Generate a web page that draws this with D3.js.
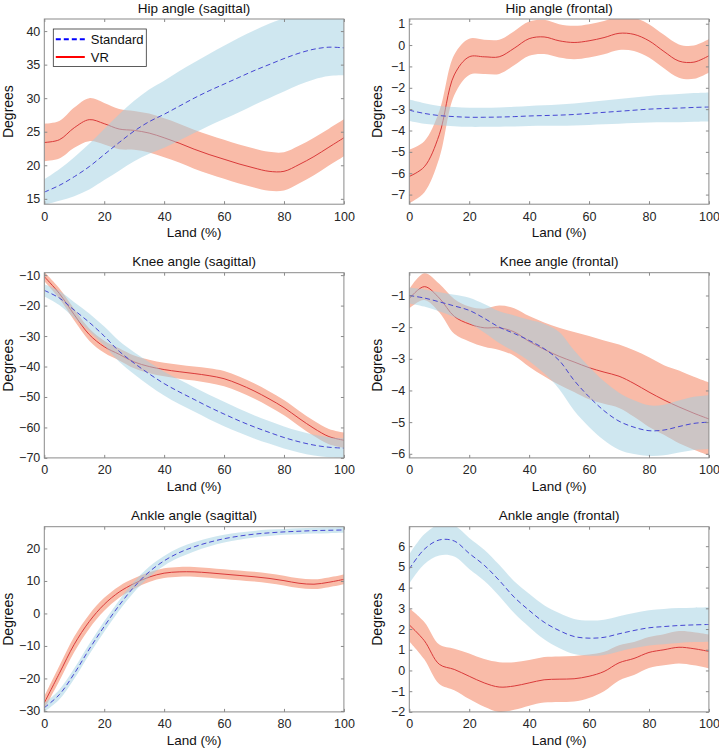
<!DOCTYPE html>
<html><head><meta charset="utf-8">
<script src="https://cdn.jsdelivr.net/npm/d3@7"></script>
<style>
body{margin:0;background:#fff}
svg{display:block}
text{font-family:Arial,"Liberation Sans",Helvetica,sans-serif}
</style>
</head><body>
<svg id="chart" width="719" height="750"></svg>
<script>
// ---------------- DATA ----------------
const landPct = [0,5,10,15,20,25,30,35,40,45,50,55,60,65,70,75,80,85,90,95,100];
const xTicks = [0,20,40,60,80,100];
const seriesNames = ["Standard","VR"];
const panelTitles = ["Hip angle (sagittal)","Hip angle (frontal)","Knee angle (sagittal)","Knee angle (frontal)","Ankle angle (sagittal)","Ankle angle (frontal)"];

// Hip sagittal
const hipSagStdMean = [16.0,17.0,18.3,19.8,21.6,23.4,25.1,26.5,27.6,28.8,30.0,31.1,32.1,33.1,34.1,35.0,35.9,36.7,37.3,37.6,37.5];
const hipSagStdSD   = [1.9,2.3,2.9,3.4,3.8,4.2,4.5,4.8,5.0,5.1,5.2,5.2,5.2,5.2,5.1,5.0,4.9,4.7,4.5,4.3,4.1];
const hipSagStdSDUp = [1.9,2.4,2.9,3.4,3.8,4.2,4.5,4.8,5.0,5.2,5.3,5.5,5.7,5.9,6.0,6.1,6.0,5.7,5.2,4.6,4.4];
const hipSagVRMean  = [23.4,23.8,25.6,26.8,26.2,25.4,25.2,24.8,24.1,23.3,22.4,21.6,20.9,20.2,19.6,19.1,19.1,20.1,21.3,22.7,24.1];
const hipSagVRSD    = [2.8,2.8,3.0,3.2,3.1,3.0,2.9,2.9,2.9,2.9,2.9,2.9,2.9,2.9,2.9,2.9,2.85,2.8,2.8,2.75,2.75];
const hipSagYTicks  = [15,20,25,30,35,40];

// Hip frontal
const hipFrStdMean = [-3.05,-3.2,-3.3,-3.35,-3.38,-3.38,-3.37,-3.35,-3.32,-3.3,-3.28,-3.25,-3.2,-3.15,-3.1,-3.05,-3.0,-2.97,-2.95,-2.92,-2.9];
const hipFrStdSD   = [0.5,0.48,0.45,0.45,0.45,0.45,0.45,0.46,0.47,0.48,0.5,0.52,0.54,0.56,0.58,0.6,0.62,0.64,0.66,0.67,0.68];
const hipFrVRMean  = [-6.15,-5.7,-4.2,-1.4,-0.55,-0.55,-0.55,-0.15,0.3,0.38,0.2,0.12,0.2,0.35,0.55,0.5,0.2,-0.3,-0.75,-0.8,-0.5];
const hipFrVRSD    = [1.25,1.2,1.1,0.95,0.85,0.8,0.8,0.8,0.8,0.8,0.78,0.78,0.78,0.78,0.78,0.78,0.78,0.78,0.78,0.78,0.78];
const hipFrYTicks  = [-7,-6,-5,-4,-3,-2,-1,0,1];

// Knee sagittal
const kneeSagStdMean = [-15.0,-17.5,-21.5,-25.5,-30.0,-35.0,-38.9,-42.4,-45.6,-48.3,-50.8,-53.3,-55.6,-57.8,-59.8,-61.6,-63.3,-64.7,-65.8,-66.5,-66.8];
const kneeSagStdSD   = [2.0,2.3,2.6,2.9,3.1,3.4,3.6,3.8,3.9,4.0,4.0,4.0,4.0,3.9,3.8,3.7,3.6,3.5,3.4,3.3,3.2];
const kneeSagVRMean  = [-10.5,-16.0,-23.0,-29.5,-33.5,-36.0,-38.5,-40.0,-41.0,-41.7,-42.3,-43.0,-44.0,-45.8,-48.0,-50.6,-53.5,-57.0,-60.3,-63.0,-64.2];
const kneeSagVRSD    = [1.5,1.7,1.9,2.0,2.0,2.0,2.1,2.2,2.2,2.3,2.3,2.4,2.5,2.5,2.5,2.5,2.5,2.5,2.5,2.5,2.5];
const kneeSagYTicks  = [-70,-60,-50,-40,-30,-20,-10];

// Knee frontal
const kneeFrStdMean = [-1.0,-1.08,-1.2,-1.33,-1.47,-1.72,-2.0,-2.2,-2.42,-2.68,-3.05,-3.68,-4.2,-4.64,-4.97,-5.16,-5.27,-5.25,-5.14,-5.04,-5.0];
const kneeFrStdSD   = [0.25,0.27,0.3,0.35,0.4,0.45,0.5,0.57,0.65,0.78,0.9,0.95,0.95,0.93,0.9,0.85,0.8,0.8,0.82,0.84,0.85];
const kneeFrVRMean  = [-1.1,-0.72,-1.08,-1.66,-1.9,-2.02,-2.02,-2.15,-2.45,-2.7,-2.92,-3.1,-3.28,-3.42,-3.55,-3.78,-4.05,-4.3,-4.52,-4.72,-4.9];
const kneeFrVRSD    = [0.3,0.42,0.45,0.55,0.55,0.6,0.7,0.75,0.8,0.85,0.9,0.95,1.0,1.0,1.0,1.05,1.1,1.1,1.15,1.15,1.15];
const kneeFrYTicks  = [-6,-5,-4,-3,-2,-1];

// Ankle sagittal
const ankSagStdMean = [-29.0,-25.0,-18.5,-11.0,-4.0,2.5,8.2,12.8,16.2,18.7,20.5,21.9,23.0,23.8,24.4,24.8,25.1,25.3,25.5,25.6,25.7];
const ankSagStdSD   = [1.3,1.5,1.6,1.6,1.6,1.6,1.6,1.6,1.5,1.5,1.4,1.3,1.2,1.1,1.0,1.0,0.9,0.9,0.9,0.9,0.9];
const ankSagVRMean  = [-27.5,-18.5,-9.5,-2.5,2.8,6.6,9.2,11.2,12.4,12.8,12.8,12.5,12.1,11.7,11.3,10.8,10.1,9.3,9.0,9.6,10.5];
const ankSagVRSD    = [2.0,2.3,2.4,2.2,2.0,1.8,1.6,1.5,1.5,1.5,1.5,1.5,1.5,1.5,1.5,1.5,1.5,1.5,1.5,1.5,1.5];
const ankSagYTicks  = [-30,-20,-10,0,10,20];

// Ankle frontal
const ankFrStdMean = [4.9,5.85,6.3,6.25,5.65,5.08,4.35,3.54,2.9,2.33,1.93,1.64,1.56,1.6,1.77,1.93,2.06,2.12,2.17,2.2,2.22];
const ankFrStdSD   = [0.7,0.72,0.75,0.75,0.75,0.75,0.75,0.77,0.8,0.82,0.84,0.85,0.85,0.85,0.85,0.85,0.85,0.85,0.84,0.83,0.83];
const ankFrVRMean  = [2.2,1.44,0.3,0.05,-0.28,-0.6,-0.8,-0.75,-0.6,-0.45,-0.42,-0.4,-0.28,-0.05,0.37,0.58,0.87,1.0,1.12,1.05,0.92];
const ankFrVRSD    = [0.8,0.9,0.95,1.0,1.1,1.15,1.2,1.15,1.1,1.1,1.1,1.1,1.05,0.95,0.85,0.8,0.75,0.75,0.78,0.8,0.82];
const ankFrYTicks  = [-2,-1,0,1,2,3,4,5,6];

// y limits
const yLimits = [[14.2,41.8],[-7.45,1.22],[-70,-9.2],[-6.13,-0.28],[-30.3,26.7],[-2,6.94]];

// ---------------- LAYOUT ----------------
const colX = [44.3, 409.3];
const rowY = [19, 272.7, 526.7];
const W = 299.6, H = 185.2;

const panels = [
  {std:[hipSagStdMean,hipSagStdSD,hipSagStdSDUp], vr:[hipSagVRMean,hipSagVRSD], ticks:hipSagYTicks},
  {std:[hipFrStdMean,hipFrStdSD], vr:[hipFrVRMean,hipFrVRSD], ticks:hipFrYTicks},
  {std:[kneeSagStdMean,kneeSagStdSD], vr:[kneeSagVRMean,kneeSagVRSD], ticks:kneeSagYTicks},
  {std:[kneeFrStdMean,kneeFrStdSD], vr:[kneeFrVRMean,kneeFrVRSD], ticks:kneeFrYTicks},
  {std:[ankSagStdMean,ankSagStdSD], vr:[ankSagVRMean,ankSagVRSD], ticks:ankSagYTicks},
  {std:[ankFrStdMean,ankFrStdSD], vr:[ankFrVRMean,ankFrVRSD], ticks:ankFrYTicks}
];

const C = {
  stdBand:"rgb(160,207,225)", stdBandOp:0.5, stdLine:"#4646d2",
  vrBand:"#f9bba8", vrLine:"#d93a3a",
  axis:"#8a8a8a", text:"#262626"
};
const fmt = v => (v<0 ? "\u2212"+Math.abs(v) : String(v));

const svg = d3.select("#chart");
const defs = svg.append("defs");

panels.forEach((p, i) => {
  const col = i % 2, row = Math.floor(i / 2);
  const g = svg.append("g").attr("transform", `translate(${colX[col]},${rowY[row]})`);
  const x = d3.scaleLinear().domain([0,100]).range([0,W]);
  const y = d3.scaleLinear().domain(yLimits[i]).range([H,0]);

  defs.append("clipPath").attr("id","clip"+i)
    .append("rect").attr("width",W).attr("height",H);
  const plot = g.append("g").attr("clip-path",`url(#clip${i})`);

  const area = (m, s, su) => d3.area()
    .x((d,k)=>x(landPct[k])).y0((d,k)=>y(m[k]-s[k])).y1((d,k)=>y(m[k]+(su||s)[k]))
    .curve(d3.curveCatmullRom)(m);
  const line = (m) => d3.line().x((d,k)=>x(landPct[k])).y(d=>y(d)).curve(d3.curveCatmullRom)(m);

  // VR first
  plot.append("path").attr("d", area(p.vr[0], p.vr[1])).attr("fill", C.vrBand);
  plot.append("path").attr("d", line(p.vr[0])).attr("fill","none").attr("stroke",C.vrLine).attr("stroke-width",1);
  // Standard on top
  plot.append("path").attr("d", area(p.std[0], p.std[1], p.std[2])).attr("fill", C.stdBand).attr("fill-opacity", C.stdBandOp);
  plot.append("path").attr("d", line(p.std[0])).attr("fill","none").attr("stroke",C.stdLine).attr("stroke-width",1).attr("stroke-dasharray","5,3");

  // axes with inward ticks
  const xb = g.append("g").attr("transform",`translate(0,${H})`)
    .call(d3.axisBottom(x).tickValues(xTicks).tickSizeInner(-3).tickSizeOuter(0).tickPadding(7.5).tickFormat(d=>d));
  const xt = g.append("g").call(d3.axisTop(x).tickValues(xTicks).tickSizeInner(-3).tickSizeOuter(0).tickFormat(""));
  const yl = g.append("g").call(d3.axisLeft(y).tickValues(p.ticks).tickSizeInner(-3).tickSizeOuter(0).tickPadding(4).tickFormat(fmt));
  const yr = g.append("g").attr("transform",`translate(${W},0)`)
    .call(d3.axisRight(y).tickValues(p.ticks).tickSizeInner(-3).tickSizeOuter(0).tickFormat(""));
  [xb,xt,yl,yr].forEach(a=>{
    a.select(".domain").remove();
    a.selectAll(".tick line").attr("stroke",C.axis);
    a.selectAll(".tick text").attr("fill",C.text).attr("font-size","12.5px").attr("font-family",'Arial,"Liberation Sans",sans-serif');
  });
  g.append("rect").attr("width",W).attr("height",H).attr("fill","none").attr("stroke",C.axis).attr("stroke-width",1);

  // title and labels
  g.append("text").attr("x",W/2).attr("y",-6.5).attr("text-anchor","middle")
    .attr("font-size","13.5px").attr("fill","#111").text(panelTitles[i]);
  g.append("text").attr("x",W/2).attr("y",H+33).attr("text-anchor","middle")
    .attr("font-size","13.5px").attr("fill","#111").text("Land (%)");
  g.append("text").attr("transform",`translate(${(col===0?12.5:381.5)-colX[col]},${H/2}) rotate(-90)`)
    .attr("text-anchor","middle").attr("font-size","14px").attr("fill","#111").text("Degrees");

  if (i === 0) {
    const lg = g.append("g").attr("transform","translate(9,10)");
    lg.append("rect").attr("width",93).attr("height",37.5).attr("fill","#fff").attr("stroke","#333").attr("stroke-width",0.8);
    const items = [{n:seriesNames[0], c:"#0000ff", dash:"5,3"},{n:seriesNames[1], c:"#ff0000", dash:null}];
    items.forEach((it,k)=>{
      const yy = 10.3 + k*17.7;
      lg.append("line").attr("x1",2.5).attr("x2",31.5).attr("y1",yy).attr("y2",yy)
        .attr("stroke",it.c).attr("stroke-width",2).attr("stroke-dasharray",it.dash);
      lg.append("text").attr("x",37.5).attr("y",yy+4.5).attr("font-size","13px").attr("fill","#111").text(it.n);
    });
  }
});
</script>
</body></html>
